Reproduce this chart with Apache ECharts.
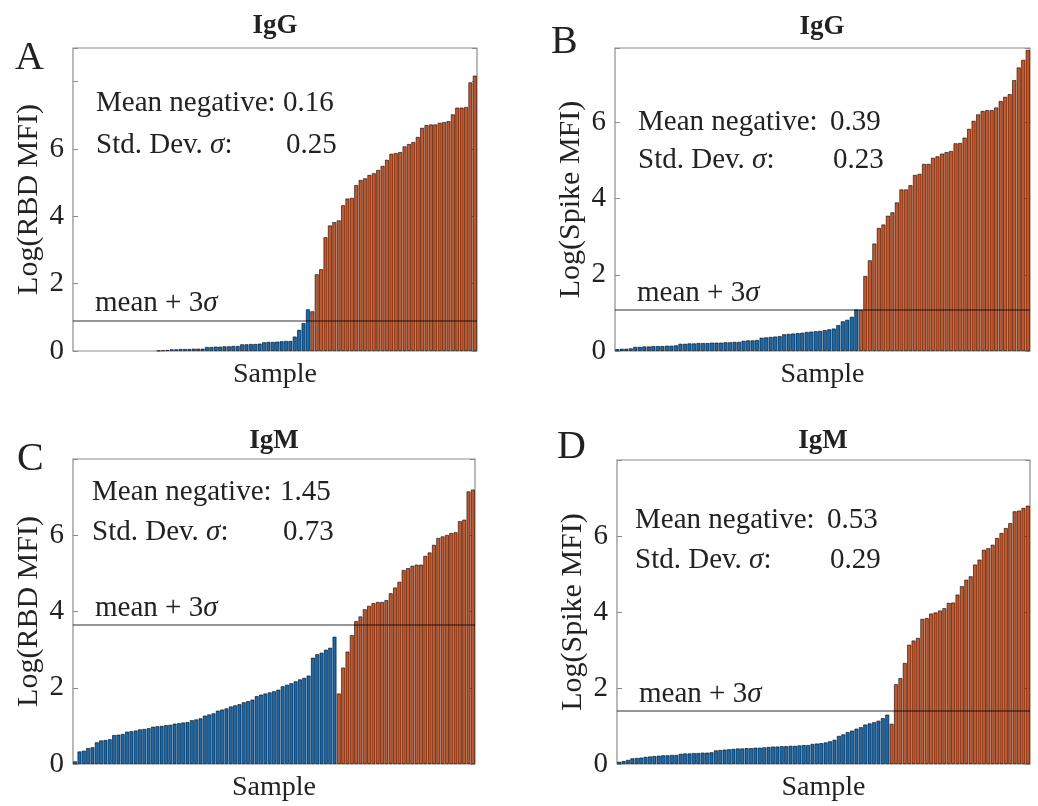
<!DOCTYPE html>
<html>
<head>
<meta charset="utf-8">
<script src="https://cdn.jsdelivr.net/npm/echarts@6/dist/echarts.min.js"></script>
<style>
html, body { margin: 0; padding: 0; background: #fff; }
#chart { width: 1038px; height: 806px; }
</style>
</head>
<body>
<div id="chart"></div>
<script>
// textos de cada panel
const panelLetters = ['A', 'B', 'C', 'D'];
const panelTitles = ['IgG', 'IgG', 'IgM', 'IgM'];
const yNames = ['Log(RBD MFI)', 'Log(Spike MFI)', 'Log(RBD MFI)', 'Log(Spike MFI)'];
const meanNegative = [0.16, 0.39, 1.45, 0.53];
const stdDev = [0.25, 0.23, 0.73, 0.29];
const yMax = [9, 7.95, 8, 8];
const yTickLabels = [0, 2, 4, 6];

// muestras negativas (azul) y positivas (naranja), ordenadas
const negA = [0, 0, 0, 0, 0, 0, 0, 0, 0, 0, 0, 0, 0, 0, 0, 0, 0, 0, 0,
    0.01, 0.02, 0.03, 0.05, 0.05, 0.06, 0.06, 0.06, 0.07, 0.07, 0.07,
    0.12, 0.12, 0.13, 0.13, 0.14, 0.14, 0.15, 0.15, 0.2, 0.2, 0.21, 0.21, 0.22,
    0.26, 0.27, 0.27, 0.28, 0.29, 0.3, 0.3, 0.43, 0.63, 0.83, 1.24];
const posA = [1.18, 2.28, 2.43, 3.38, 3.73, 3.83, 3.88, 4.33, 4.53, 4.55, 4.93, 5.08, 5.13,
    5.23, 5.28, 5.38, 5.5, 5.68, 5.86, 5.88, 5.91, 6.08, 6.15, 6.21, 6.36, 6.63, 6.71, 6.73,
    6.73, 6.78, 6.8, 6.83, 7.03, 7.23, 7.23, 7.25, 7.98, 8.18];

const negB = [0.05, 0.06, 0.06, 0.07, 0.11, 0.11, 0.12, 0.12, 0.13, 0.13, 0.13, 0.14, 0.14, 0.15,
    0.19, 0.19, 0.2, 0.2, 0.21, 0.21, 0.21, 0.22, 0.22, 0.22, 0.23, 0.23, 0.24, 0.24,
    0.27, 0.28, 0.28, 0.29, 0.35, 0.36, 0.37, 0.38, 0.39, 0.44, 0.45, 0.46, 0.47, 0.48,
    0.5, 0.51, 0.52, 0.53, 0.55, 0.57, 0.59, 0.68, 0.78, 0.82, 0.9, 1.09];
const posB = [1.08, 1.97, 2.38, 2.82, 3.23, 3.32, 3.55, 3.64, 3.9, 4.24, 4.24, 4.35, 4.62, 4.65,
    4.91, 4.91, 5.07, 5.11, 5.18, 5.22, 5.25, 5.45, 5.46, 5.6, 5.83, 6.04, 6.21, 6.3, 6.32,
    6.32, 6.39, 6.56, 6.67, 6.74, 7.11, 7.44, 7.64, 7.9];

const negC = [0.07, 0.33, 0.35, 0.42, 0.44, 0.57, 0.62, 0.63, 0.65, 0.76, 0.77, 0.79,
    0.85, 0.86, 0.88, 0.91, 0.92, 0.94, 0.98, 0.99, 1.0, 1.02, 1.03, 1.06, 1.07, 1.09, 1.1,
    1.15, 1.17, 1.2, 1.27, 1.3, 1.33, 1.4, 1.43, 1.46, 1.51, 1.54, 1.57, 1.62, 1.65, 1.69,
    1.78, 1.82, 1.85, 1.88, 1.91, 1.95, 2.04, 2.08, 2.12, 2.17, 2.22, 2.26, 2.32,
    2.79, 2.88, 2.92, 3.0, 3.05, 3.34];
const posC = [1.85, 2.53, 2.95, 3.38, 3.75, 3.87, 4.06, 4.15, 4.22, 4.25, 4.25, 4.3, 4.48,
    4.63, 4.78, 5.09, 5.14, 5.2, 5.23, 5.23, 5.46, 5.55, 5.75, 5.93, 5.97, 6.01, 6.06, 6.08,
    6.37, 6.41, 7.15, 7.2];

const negD = [0.06, 0.08, 0.11, 0.15, 0.16, 0.17, 0.19, 0.2, 0.21, 0.22, 0.23, 0.23, 0.24, 0.24,
    0.27, 0.28, 0.28, 0.29, 0.29, 0.3, 0.3, 0.31, 0.36, 0.37, 0.38, 0.39,
    0.4, 0.41, 0.41, 0.42, 0.42, 0.43, 0.43, 0.44, 0.45, 0.46, 0.46, 0.47, 0.47,
    0.48, 0.48, 0.49, 0.5, 0.5, 0.53, 0.54, 0.55, 0.57, 0.6, 0.64, 0.74, 0.78,
    0.84, 0.88, 0.93, 0.97, 1.04, 1.07, 1.1, 1.14, 1.21, 1.3];
const posD = [1.06, 2.1, 2.26, 2.66, 3.14, 3.25, 3.32, 3.82, 3.84, 3.96, 3.99, 4.04, 4.1,
    4.24, 4.25, 4.46, 4.68, 4.85, 4.94, 5.25, 5.38, 5.64, 5.68, 5.77, 5.95, 6.08, 6.21,
    6.34, 6.65, 6.67, 6.74, 6.8];

const negatives = [negA, negB, negC, negD];
const positives = [posA, posB, posC, posD];

// posiciones en pixeles
const grids = [
    { left: 73, top: 48, width: 404, height: 303 },
    { left: 615, top: 48, width: 415, height: 303 },
    { left: 73, top: 459, width: 402, height: 305 },
    { left: 617, top: 460, width: 413, height: 304 }
];
const letterPos = [[15, 58], [551, 42], [17, 459], [557, 447]];
const titlePos = [[275, 26], [822, 27], [274, 441], [823, 441]];
const statPos = [[96, 103, 145, 283], [638, 122, 160, 830], [92, 492, 532, 280], [635, 520, 560, 827]];

const FONT = '"Liberation Serif", "Times New Roman", serif';
const TXT = '#222';
const AX = '#8c8c8c';
const BLUE = '#0f6cba';
const ORANGE = '#d6521c';
const FS = 29;

const rich = {
    a: { fontFamily: FONT, fontSize: FS, color: TXT },
    i: { fontFamily: FONT, fontSize: FS, color: TXT, fontStyle: 'italic' }
};

const titles = [];
const xAxes = [];
const yAxes = [];
const series = [];

function mkTitle(text, left, top, size, extra) {
    return {
        text: text, left: left, top: top, padding: 0,
        textVerticalAlign: 'middle',
        textStyle: Object.assign({ fontFamily: FONT, fontSize: size, fontWeight: 'normal', color: TXT, rich: rich }, extra || {})
    };
}

grids.forEach((g, i) => {
    const neg = negatives[i];
    const pos = positives[i];
    const n = neg.length + pos.length;
    const cats = Array.from({ length: n }, (_, k) => k + 1);

    titles.push(mkTitle(panelLetters[i], letterPos[i][0], letterPos[i][1], 40));
    const t = mkTitle(panelTitles[i], titlePos[i][0], titlePos[i][1], 27, { fontWeight: 'bold' });
    t.textAlign = 'center';
    titles.push(t);
    const sp = statPos[i];
    titles.push(mkTitle('Mean negative:', sp[0], sp[1], FS));
    titles.push(mkTitle(meanNegative[i].toFixed(2), sp[3], sp[1], FS));
    titles.push(mkTitle('{a|Std. Dev. }{i|σ}{a|:}', sp[0], sp[2], FS));
    titles.push(mkTitle(stdDev[i].toFixed(2), sp[3] + 3, sp[2], FS));

    xAxes.push({
        type: 'category', gridIndex: i, data: cats,
        axisLine: { show: false }, axisTick: { show: false }, axisLabel: { show: false },
        name: 'Sample', nameLocation: 'middle', nameGap: 10,
        nameTextStyle: { fontFamily: FONT, fontSize: 28, color: TXT }
    });
    yAxes.push({
        type: 'value', gridIndex: i, min: 0, max: yMax[i], interval: 2,
        name: yNames[i], nameLocation: 'middle', nameGap: 29,
        nameTextStyle: { fontFamily: FONT, fontSize: 30, color: TXT },
        axisLine: { show: false },
        axisTick: { show: true, inside: true, length: 5, lineStyle: { color: AX } },
        axisLabel: {
            margin: 9, fontFamily: FONT, fontSize: FS, color: TXT,
            formatter: v => (yTickLabels.indexOf(v) >= 0 ? String(v) : '')
        },
        splitLine: { show: false }
    });
    yAxes.push({
        type: 'value', gridIndex: i, min: 0, max: yMax[i], interval: 2, position: 'right',
        axisLine: { show: false },
        axisTick: { show: true, inside: true, length: 5, lineStyle: { color: AX } },
        axisLabel: { show: false }, splitLine: { show: false }
    });

    const border = { borderColor: 'rgba(0,0,0,0.75)', borderWidth: 0.8 };
    // barras de valor cero sin borde
    const noEdge = v => (v === 0 ? { value: 0, itemStyle: { borderWidth: 0 } } : v);
    series.push({
        type: 'bar', xAxisIndex: i, yAxisIndex: 2 * i,
        data: neg.map(noEdge).concat(pos.map(() => '-')),
        barGap: '-100%', barCategoryGap: '8%',
        itemStyle: Object.assign({ color: BLUE }, border),
        animation: false
    });
    series.push({
        type: 'bar', xAxisIndex: i, yAxisIndex: 2 * i,
        data: neg.map(() => '-').concat(pos),
        barGap: '-100%', barCategoryGap: '8%',
        itemStyle: Object.assign({ color: ORANGE }, border),
        animation: false,
        markLine: {
            silent: true, symbol: ['none', 'none'],
            lineStyle: { color: 'rgba(0,0,0,0.55)', width: 1.5, type: 'solid' },
            label: {
                show: true, position: 'insideStartTop', distance: [22, 2],
                formatter: '{a|mean + 3}{i|σ}', rich: rich
            },
            data: [{ yAxis: meanNegative[i] + 3 * stdDev[i] }]
        }
    });
});

const chart = echarts.init(document.getElementById('chart'));
chart.setOption({
    backgroundColor: '#fff',
    animation: false,
    title: titles,
    grid: grids.map(g => Object.assign({ show: true, borderColor: AX, borderWidth: 1.2, backgroundColor: 'transparent' }, g)),
    xAxis: xAxes,
    yAxis: yAxes,
    series: series
});
</script>
</body>
</html>
